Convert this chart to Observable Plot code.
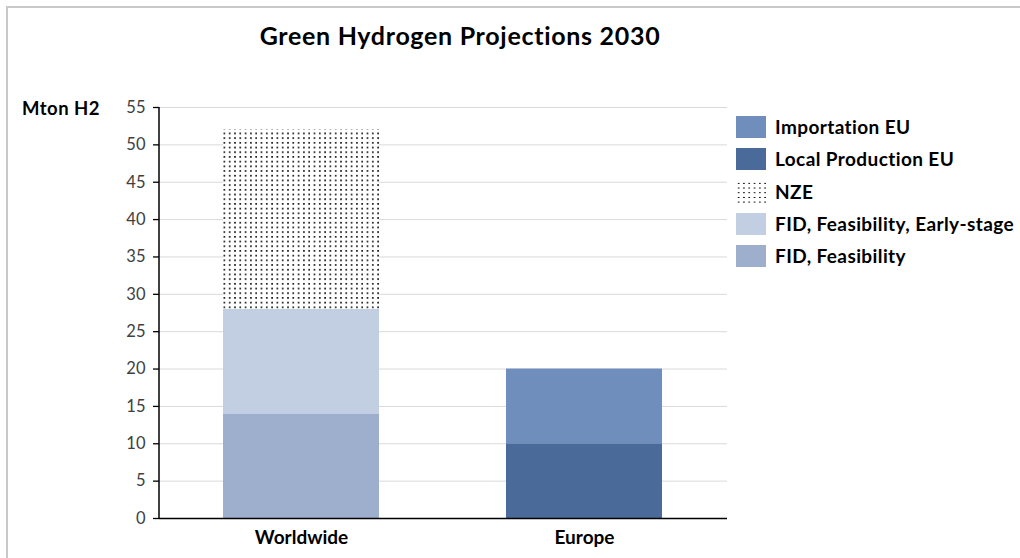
<!DOCTYPE html>
<html>
<head>
<meta charset="utf-8">
<script src="https://cdn.jsdelivr.net/npm/d3@7"></script>
<script src="https://cdn.jsdelivr.net/npm/@observablehq/plot@0.6"></script>
<style>
  body { margin: 0; background: #fff; font-family: Lato, "Open Sans", sans-serif; }
  #chart { position: relative; width: 1020px; height: 558px; overflow: hidden; background: #fff; }
  #frame { position: absolute; left: 6px; top: 6px; width: 1200px; height: 800px;
           border-left: 2px solid #c8c8c8; border-top: 2px solid #c8c8c8; pointer-events: none; }
  #plot { position: absolute; left: 0; top: 0; }
  #title { position: absolute; top: 20px; left: 0; width: 920px; text-align: center;
           font-weight: bold; font-size: 25px; letter-spacing: 0.7px; color: #000; }
  #ylabel { position: absolute; left: 22px; top: 97px; font-weight: bold; font-size: 18.5px; letter-spacing: 0.5px; color: #000; }
  #legend { position: absolute; left: 736px; top: 116px; }
  .item { position: relative; height: 32.3px; }
  .sw { position: absolute; left: 0; top: 0; width: 30px; height: 22px; }
  .lab { position: absolute; left: 39px; top: 0px; font-weight: bold; font-size: 19px; letter-spacing: 0.4px; color: #000; white-space: nowrap; line-height: 22px; }
</style>
</head>
<body>
<div id="chart">
  <div id="plot"></div>
  <div id="title">Green Hydrogen Projections 2030</div>
  <div id="ylabel">Mton H2</div>
  <div id="legend"></div>
  <div id="frame"></div>
</div>
<script>
// Regions on the x axis
const categories = ["Worldwide", "Europe"];

// Stacked series, bottom to top
const series = [
  "FID, Feasibility",
  "FID, Feasibility, Early-stage",
  "NZE",
  "Local Production EU",
  "Importation EU"
];

// Mton H2 per series, one list per region
const worldwideValues = [14, 14, 24, 0, 0];
const europeValues = [0, 0, 0, 10, 10];

// Fills per series (NZE uses a dotted pattern)
const seriesFills = ["#9dafcd", "#c2cee2", "url(#nze-dots)", "#4a6a9a", "#6f8ebb"];

// Legend order
const legendOrder = ["Importation EU", "Local Production EU", "NZE", "FID, Feasibility, Early-stage", "FID, Feasibility"];

const yTicks = [0, 5, 10, 15, 20, 25, 30, 35, 40, 45, 50, 55];

const rows = [];
[worldwideValues, europeValues].forEach((vals, i) => {
  vals.forEach((v, j) => {
    if (v > 0) rows.push({region: categories[i], series: series[j], value: v});
  });
});

const plot = Plot.plot({
  width: 1020,
  height: 558,
  marginLeft: 159,
  marginRight: 293,
  marginTop: 107,
  marginBottom: 40,
  style: {fontFamily: "Lato, 'Open Sans', sans-serif", background: "transparent"},
  x: {domain: categories, paddingInner: 0.447, paddingOuter: 0.2236, label: null, axis: null},
  y: {domain: [0, 55], label: null, axis: null},
  color: {domain: series, range: seriesFills},
  marks: [
    Plot.gridY(yTicks, {stroke: "#d9d9d9", strokeOpacity: 1, strokeWidth: 1}),
    Plot.barY(rows, Plot.stackY({x: "region", y: "value", fill: "series", order: series})),
    Plot.axisY(yTicks, {tickSize: 6, tickPadding: 8, fontSize: 16.5, fill: "#404040", stroke: "#000", strokeWidth: 1.3, label: null}),
    Plot.ruleY([0], {stroke: "#000", strokeWidth: 1.5}),
    Plot.axisX({tickSize: 0, tickPadding: 12, fontSize: 19, fontWeight: "bold", fill: "#000", label: null,
                style: {letterSpacing: "0.5px"}})
  ]
});

// Dotted pattern for the NZE segment
const svg = d3.select(plot);
const defs = svg.insert("defs", ":first-child");
const pat = defs.append("pattern")
  .attr("id", "nze-dots")
  .attr("patternUnits", "userSpaceOnUse")
  .attr("width", 5.3)
  .attr("height", 4.7);
pat.append("rect").attr("width", 5.3).attr("height", 4.7).attr("fill", "#fff");
pat.append("rect").attr("x", 1).attr("y", 1).attr("width", 1.6).attr("height", 1.6).attr("fill", "#000");

// Vertical value-axis line along the left edge of the frame
const y = plot.scale("y");
svg.append("line")
  .attr("x1", 159).attr("x2", 159)
  .attr("y1", y.apply(0)).attr("y2", y.apply(55))
  .attr("stroke", "#000").attr("stroke-width", 1.5);

document.getElementById("plot").appendChild(plot);

// Legend
const legend = d3.select("#legend");
legendOrder.forEach(name => {
  const fill = seriesFills[series.indexOf(name)];
  const item = legend.append("div").attr("class", "item");
  const sw = item.append("div").attr("class", "sw");
  if (fill.startsWith("url")) {
    sw.style("background-color", "#fff")
      .style("background-image", "radial-gradient(circle, #000 0.8px, transparent 1px)")
      .style("background-size", "5.3px 4.7px");
  } else {
    sw.style("background", fill);
  }
  item.append("div").attr("class", "lab").text(name);
});
</script>
</body>
</html>
